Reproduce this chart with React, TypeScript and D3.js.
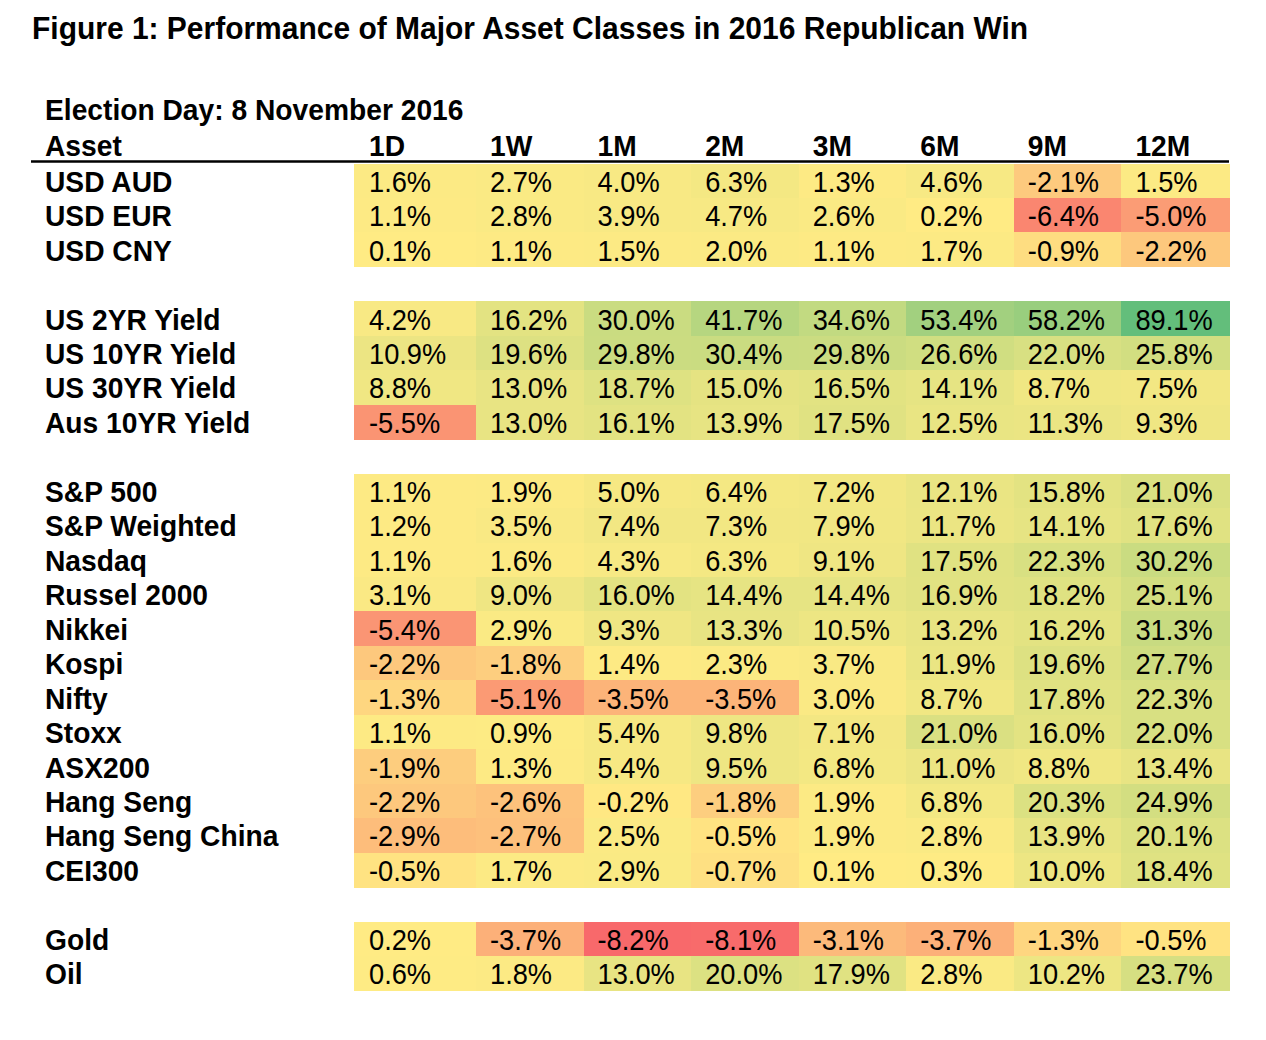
import React from "react";
import * as d3 from "d3";

const title = "Figure 1: Performance of Major Asset Classes in 2016 Republican Win";
const subtitle = "Election Day: 8 November 2016";
const firstHeader = "Asset";
const periods = ["1D", "1W", "1M", "2M", "3M", "6M", "9M", "12M"];

const fxAssets = ["USD AUD", "USD EUR", "USD CNY"];
const fxValues = [
  [1.6, 2.7, 4.0, 6.3, 1.3, 4.6, -2.1, 1.5],
  [1.1, 2.8, 3.9, 4.7, 2.6, 0.2, -6.4, -5.0],
  [0.1, 1.1, 1.5, 2.0, 1.1, 1.7, -0.9, -2.2],
];

const yieldAssets = ["US 2YR Yield", "US 10YR Yield", "US 30YR Yield", "Aus 10YR Yield"];
const yieldValues = [
  [4.2, 16.2, 30.0, 41.7, 34.6, 53.4, 58.2, 89.1],
  [10.9, 19.6, 29.8, 30.4, 29.8, 26.6, 22.0, 25.8],
  [8.8, 13.0, 18.7, 15.0, 16.5, 14.1, 8.7, 7.5],
  [-5.5, 13.0, 16.1, 13.9, 17.5, 12.5, 11.3, 9.3],
];

const equityAssets = [
  "S&P 500", "S&P Weighted", "Nasdaq", "Russel 2000", "Nikkei", "Kospi",
  "Nifty", "Stoxx", "ASX200", "Hang Seng", "Hang Seng China", "CEI300",
];
const equityValues = [
  [1.1, 1.9, 5.0, 6.4, 7.2, 12.1, 15.8, 21.0],
  [1.2, 3.5, 7.4, 7.3, 7.9, 11.7, 14.1, 17.6],
  [1.1, 1.6, 4.3, 6.3, 9.1, 17.5, 22.3, 30.2],
  [3.1, 9.0, 16.0, 14.4, 14.4, 16.9, 18.2, 25.1],
  [-5.4, 2.9, 9.3, 13.3, 10.5, 13.2, 16.2, 31.3],
  [-2.2, -1.8, 1.4, 2.3, 3.7, 11.9, 19.6, 27.7],
  [-1.3, -5.1, -3.5, -3.5, 3.0, 8.7, 17.8, 22.3],
  [1.1, 0.9, 5.4, 9.8, 7.1, 21.0, 16.0, 22.0],
  [-1.9, 1.3, 5.4, 9.5, 6.8, 11.0, 8.8, 13.4],
  [-2.2, -2.6, -0.2, -1.8, 1.9, 6.8, 20.3, 24.9],
  [-2.9, -2.7, 2.5, -0.5, 1.9, 2.8, 13.9, 20.1],
  [-0.5, 1.7, 2.9, -0.7, 0.1, 0.3, 10.0, 18.4],
];

const commodityAssets = ["Gold", "Oil"];
const commodityValues = [
  [0.2, -3.7, -8.2, -8.1, -3.1, -3.7, -1.3, -0.5],
  [0.6, 1.8, 13.0, 20.0, 17.9, 2.8, 10.2, 23.7],
];

const groups = [
  { assets: fxAssets, values: fxValues },
  { assets: yieldAssets, values: yieldValues },
  { assets: equityAssets, values: equityValues },
  { assets: commodityAssets, values: commodityValues },
];

// layout
const W = 1266;
const H = 1040;
const FONT = "'Liberation Sans', Arial, Helvetica, sans-serif";
const SX = 0.94;
const tableLeft = 31;
const labelX = 45;
const gridLeft = 354;
const gridRight = 1229;
const firstColExtra = 14.4;
const gridTop = 163.5;
const gridBottom = 990.5;
const textPad = 14;

type Row = { slot: number; asset: string; values: number[] };

function T({ x, y, size, bold, children }: { x: number; y: number; size: number; bold?: boolean; children: React.ReactNode }) {
  return (
    <text
      transform={`translate(${x},${y}) scale(${SX},1)`}
      fontSize={size}
      fontWeight={bold ? "bold" : "normal"}
      fill="#000"
    >
      {children}
    </text>
  );
}

export default function App() {
  const rows: Row[] = [];
  let slot = 0;
  groups.forEach((g, gi) => {
    if (gi > 0) slot += 1;
    g.assets.forEach((a, i) => {
      rows.push({ slot, asset: a, values: g.values[i] });
      slot += 1;
    });
  });
  const nSlots = slot;

  const y = d3
    .scaleBand<number>()
    .domain(d3.range(nSlots))
    .range([gridTop, gridBottom])
    .paddingInner(0);

  const x = d3
    .scaleBand<string>()
    .domain(periods)
    .range([gridLeft + firstColExtra, gridRight])
    .paddingInner(0);

  const colStart = (p: string, i: number) => (i === 0 ? gridLeft : (x(p) as number));
  const colWidth = (p: string, i: number) => (i === 0 ? x.bandwidth() + firstColExtra : x.bandwidth());

  const all = rows.flatMap((r) => r.values);
  const vmin = d3.min(all) as number;
  const vmax = d3.max(all) as number;
  const color = d3
    .scaleLinear<string>()
    .domain([vmin, 0, vmax])
    .range(["#F8696B", "#FFEB84", "#63BE7B"])
    .interpolate(d3.interpolateRgb);

  const bh = y.bandwidth();
  const fmt = (v: number) => `${v.toFixed(1)}%`;

  return (
    <svg
      width={W}
      height={H}
      viewBox={`0 0 ${W} ${H}`}
      style={{ position: "absolute", left: 0, top: 0, background: "#fff" }}
      fontFamily={FONT}
    >
      <rect x={0} y={0} width={W} height={H} fill="#fff" />
      <T x={32} y={38.5} size={31.9} bold>
        {title}
      </T>
      <T x={labelX} y={119.5} size={30} bold>
        {subtitle}
      </T>
      <T x={labelX} y={155.5} size={30} bold>
        {firstHeader}
      </T>
      {periods.map((p, i) => (
        <T key={p} x={colStart(p, i) + textPad + (i === 0 ? 1 : 0)} y={155.5} size={30} bold>
          {p}
        </T>
      ))}
      <line x1={tableLeft} x2={gridRight} y1={161.5} y2={161.5} stroke="#000" strokeWidth={2.5} />

      <g shapeRendering="crispEdges">
        {rows.map((r) =>
          r.values.map((v, i) => (
            <rect
              key={`${r.asset}-${i}`}
              x={colStart(periods[i], i)}
              y={y(r.slot) as number}
              width={colWidth(periods[i], i) + 0.6}
              height={bh + 0.6}
              fill={color(v)}
            />
          ))
        )}
      </g>

      {rows.map((r) => {
        const cy = (y(r.slot) as number) + bh / 2 + 11;
        return (
          <g key={r.asset}>
            <T x={labelX} y={cy} size={30} bold>
              {r.asset}
            </T>
            {r.values.map((v, i) => (
              <T key={i} x={colStart(periods[i], i) + textPad + (i === 0 ? 1 : 0)} y={cy} size={29}>
                {fmt(v)}
              </T>
            ))}
          </g>
        );
      })}
    </svg>
  );
}
